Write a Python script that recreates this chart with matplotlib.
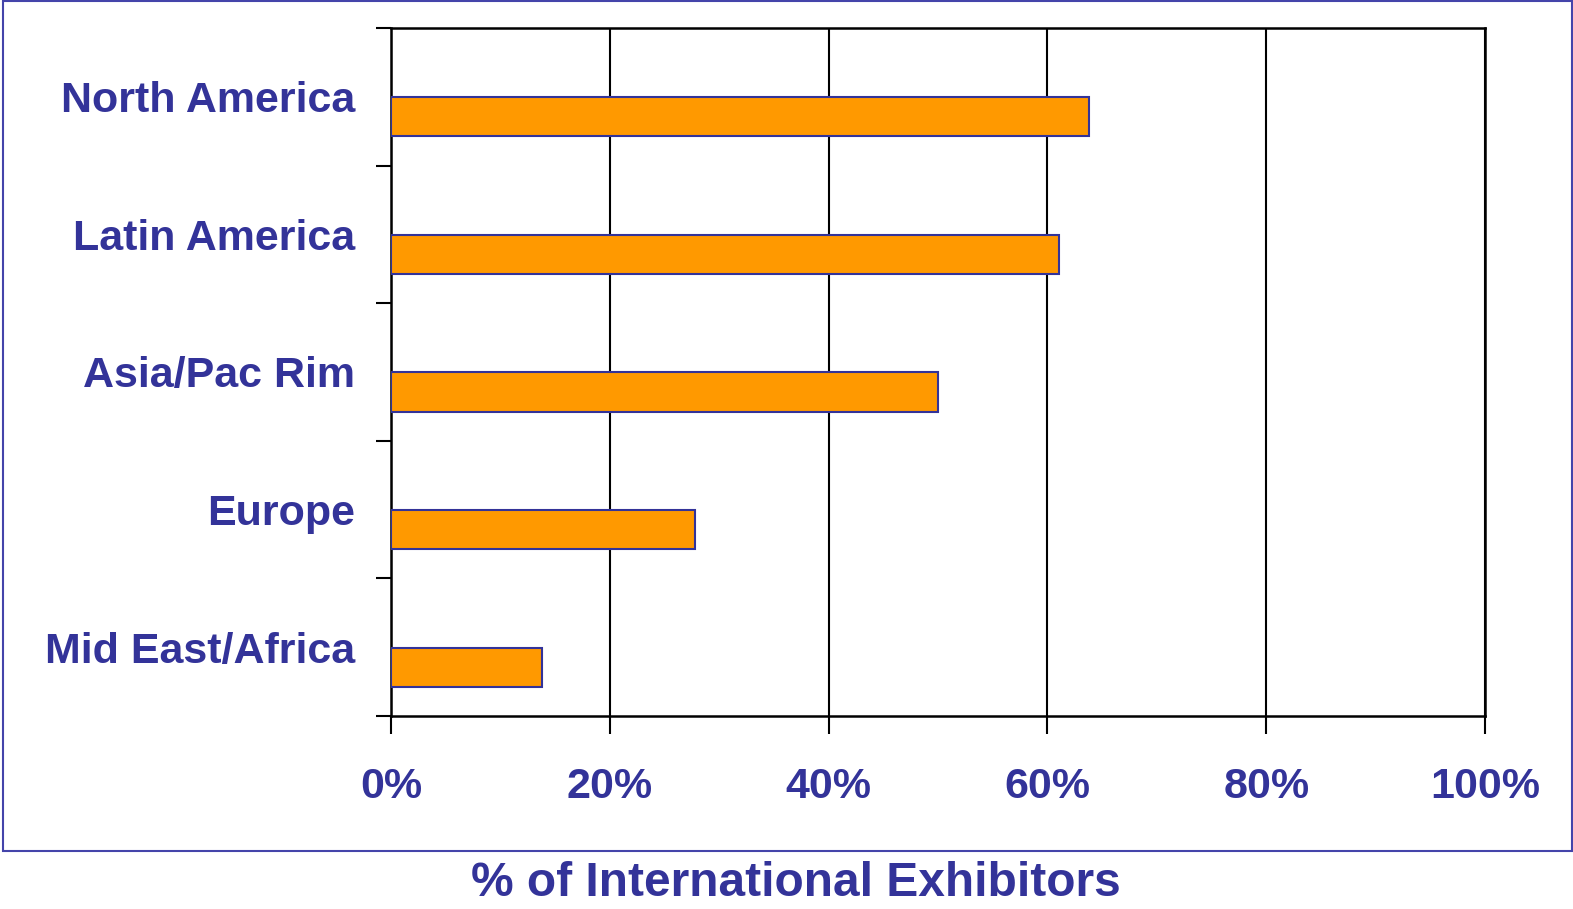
import numpy as np
import matplotlib
matplotlib.use("Agg")
import matplotlib.pyplot as plt
import matplotlib.patches as patches

# regions top to bottom
regions = ["North America", "Latin America", "Asia/Pac Rim", "Europe", "Mid East/Africa"]
pct = [63.8, 61.1, 50.0, 27.8, 13.8]
xticks = [0, 20, 40, 60, 80, 100]

navy = "#333399"
orange = "#FF9900"

plt.rcParams["font.family"] = ["Liberation Sans", "DejaVu Sans"]

W, H = 1573, 909
fig = plt.figure(figsize=(W / 100, H / 100), dpi=100)
ax = fig.add_axes([391 / W, 1 - 716 / H, (1485 - 391) / W, (716 - 28) / H])

y = np.arange(len(regions))
ax.barh(y + 0.146, pct, height=0.285, color=orange, edgecolor=navy, linewidth=1.5, zorder=3)

ax.set_xlim(0, 100)
ax.set_ylim(len(regions) - 0.5, -0.5)

ax.set_xticks(xticks)
ax.set_xticklabels([f"{v}%" for v in xticks])
ax.set_yticks(y)
ax.set_yticklabels(regions)
ax.set_yticks(np.arange(-0.5, len(regions)), minor=True)

ax.tick_params(axis="y", which="major", length=0, pad=26, labelsize=31, labelcolor=navy)
ax.tick_params(axis="y", which="minor", length=11, width=1.5, color="black")
ax.tick_params(axis="x", length=13, width=1.5, pad=24, labelsize=31, labelcolor=navy)
for lbl in ax.get_xticklabels() + ax.get_yticklabels():
    lbl.set_fontweight("bold")

ax.grid(axis="x", color="black", linewidth=1.5, zorder=1)
for s in ax.spines.values():
    s.set_color("black")
    s.set_linewidth(1.8)

# outer frame around the chart
frame = patches.Rectangle((3 / W, 1 - 851 / H), (1572 - 3) / W, 850 / H,
                          transform=fig.transFigure, fill=False,
                          edgecolor="#4444aa", linewidth=1.5)
fig.add_artist(frame)

fig.text(796 / W, 1 - 884 / H, "% of International Exhibitors", ha="center", va="center",
         fontsize=34.5, fontweight="bold", color=navy)

fig.savefig("out.png", dpi=100)
